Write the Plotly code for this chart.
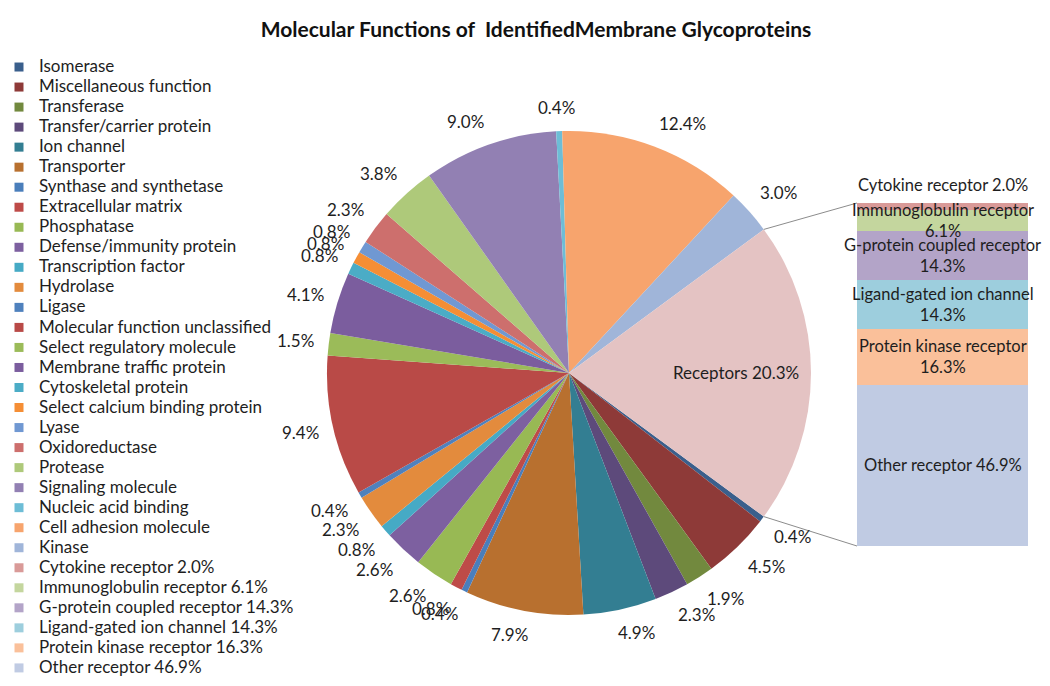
import math
import plotly.graph_objects as go

# page is rendered in a 1050x686 window whose <body> has an 8px default margin
OX, OY = 8, 8
FW, FH = 1050 - OX, 686 - OY

# ---------------- data ----------------
pie_labels = [
    "Isomerase", "Miscellaneous function", "Transferase", "Transfer/carrier protein",
    "Ion channel", "Transporter", "Synthase and synthetase", "Extracellular matrix",
    "Phosphatase", "Defense/immunity protein", "Transcription factor", "Hydrolase",
    "Ligase", "Molecular function unclassified", "Select regulatory molecule",
    "Membrane traffic protein", "Cytoskeletal protein", "Select calcium binding protein",
    "Lyase", "Oxidoreductase", "Protease", "Signaling molecule", "Nucleic acid binding",
    "Cell adhesion molecule", "Kinase", "Receptors",
]
pie_values = [
    0.4, 4.5, 1.9, 2.3, 4.9, 7.9, 0.4, 0.8, 2.6, 2.6, 0.8, 2.3, 0.4,
    9.4, 1.5, 4.1, 0.8, 0.8, 0.8, 2.3, 3.8, 9.0, 0.4, 12.4, 3.0, 20.3,
]
pie_colors = [
    "#3A5F8C", "#8E3A38", "#72893E", "#5D4A7B", "#337E92", "#B8702F",
    "#4A7EBB", "#BE4B48", "#98B954", "#7D60A0", "#46AAC5", "#E38B3D",
    "#4F81BD", "#B94A47", "#9BBB59", "#7B5D9E", "#4BACC6", "#F58E35",
    "#7098D2", "#CD6F6D", "#AEC97A", "#9280B3", "#6DBDD6", "#F7A46D",
    "#A0B5D9", "#E4C3C3",
]

# receptor breakdown (bar), listed bottom -> top
bar_labels = ["Other receptor", "Protein kinase receptor", "Ligand-gated ion channel",
              "G-protein coupled receptor", "Immunoglobulin receptor", "Cytokine receptor"]
bar_values = [46.9, 16.3, 14.3, 14.3, 6.1, 2.0]
bar_colors = ["#C0CBE3", "#FAC09A", "#9DCEDD", "#B3A4C8", "#C4D69E", "#D99A98"]
bar_text = ["Other receptor 46.9%", "Protein kinase receptor<br>16.3%",
            "Ligand-gated ion channel<br>14.3%", "G-protein coupled receptor<br>14.3%",
            "Immunoglobulin receptor<br>6.1%", "Cytokine receptor 2.0%"]

title_text = "Molecular Functions of \u00a0IdentifiedMembrane Glycoproteins"

# ---------------- geometry / style (window pixels) ----------------
PIE_CX, PIE_CY, PIE_R = 569, 373, 242
BAR_X0, BAR_X1, BAR_Y0, BAR_Y1 = 857, 1028, 203, 546
FONT = "Lato"
TXT = "#1E1E1E"
LBL_SIZE = 17
BAR_LBL_SIZE = 16.5
LEG_SIZE = 17


def fx(X):
    return (X - OX) / FW


def fy(Y):
    return 1 - (Y - OY) / FH


def clamp(v):
    return max(-1.0, min(1.0, v))


total = sum(pie_values)
rec_frac = pie_values[-1] / total
rotation = 90 + rec_frac * 180  # first slice starts where the receptor slice ends

fig = go.Figure()
fig.add_trace(go.Pie(
    labels=pie_labels, values=pie_values, sort=False, direction="clockwise",
    rotation=rotation, marker=dict(colors=pie_colors, line=dict(width=0)),
    textinfo="none",
    domain=dict(x=[fx(PIE_CX - PIE_R), fx(PIE_CX + PIE_R)],
                y=[fy(PIE_CY + PIE_R), fy(PIE_CY - PIE_R)]),
    showlegend=False, hoverinfo="label+percent",
))

for lab, val, col in zip(bar_labels, bar_values, bar_colors):
    fig.add_trace(go.Bar(x=[0], y=[val], width=1, marker=dict(color=col, line=dict(width=0)),
                         name=lab, showlegend=False, hoverinfo="name+y"))

# legend entries (pie categories except receptors, then receptor breakdown top->bottom)
legend_names = pie_labels[:-1] + [f"{l} {v:.1f}%" for l, v in zip(bar_labels[::-1], bar_values[::-1])]
legend_colors = pie_colors[:-1] + bar_colors[::-1]
for n, c in zip(legend_names, legend_colors):
    fig.add_trace(go.Scatter(x=[None], y=[None], mode="markers",
                             name=f'<span style="font-size:{LEG_SIZE}px">{n}</span>',
                             marker=dict(symbol="square", size=9, color=c), hoverinfo="skip"))

ann = []
# pie percentage labels, placed just outside the rim at each slice's mid-angle
cum = 0
for i, v in enumerate(pie_values):
    mid = rotation + (cum + v / 2) / total * 360
    cum += v
    a = math.radians(mid)
    s, c = math.sin(a), math.cos(a)
    if i == len(pie_values) - 1:
        t = f"Receptors {v:.1f}%"
        d = PIE_R * 0.69
        px, py = PIE_CX + d * s, PIE_CY - d * c
    else:
        t = f"{v:.1f}%"
        w = (len(t) - 2) * 9.9 + 18
        h = 19
        d = PIE_R + 14
        px = PIE_CX + d * s + clamp(s / 0.3) * w / 2
        py = PIE_CY - d * c - clamp(c / 0.6) * h / 2
    ann.append(dict(x=fx(px), y=fy(py), xref="paper", yref="paper", text=t,
                    showarrow=False, xanchor="center", yanchor="middle",
                    font=dict(family=FONT, size=LBL_SIZE, color=TXT)))

# bar labels
cum = 0
for i, (v, t) in enumerate(zip(bar_values, bar_text)):
    mid = cum + v / 2
    cum += v
    ann.append(dict(x=0, y=mid, xref="x", yref="y", text=t, showarrow=False,
                    yshift=21 if i == len(bar_values) - 1 else 0,
                    font=dict(family=FONT, size=BAR_LBL_SIZE, color=TXT)))

# connector lines from pie rim to bar corners
half = rec_frac * 180
shapes = []
for ang, by in [(90 - half, BAR_Y0), (90 + half, BAR_Y1)]:
    a = math.radians(ang)
    px = PIE_CX + PIE_R * math.sin(a)
    py = PIE_CY - PIE_R * math.cos(a)
    shapes.append(dict(type="line", xref="paper", yref="paper",
                       x0=fx(px), y0=fy(py), x1=fx(BAR_X0), y1=fy(by),
                       line=dict(color="#8C8C8C", width=1)))

fig.update_layout(
    width=FW, height=FH, margin=dict(l=0, r=0, t=0, b=0, autoexpand=False),
    paper_bgcolor="white", plot_bgcolor="white",
    barmode="stack", bargap=0,
    title=dict(text=f"<b>{title_text}</b>", x=fx(536), y=fy(30),
               xanchor="center", yanchor="middle",
               font=dict(family=FONT, size=21, color="#111111")),
    xaxis=dict(domain=[fx(BAR_X0), fx(BAR_X1)], range=[-0.5, 0.5], visible=False, fixedrange=True),
    yaxis=dict(domain=[fy(BAR_Y1), fy(BAR_Y0)], range=[0, sum(bar_values)],
               visible=False, fixedrange=True),
    legend=dict(x=fx(-1), y=fy(52), xanchor="left", yanchor="top", traceorder="normal",
                font=dict(family=FONT, size=13.1, color=TXT), bgcolor="rgba(0,0,0,0)",
                tracegroupgap=0, itemwidth=30),
    annotations=ann, shapes=shapes,
)

fig.write_html("out.html")
